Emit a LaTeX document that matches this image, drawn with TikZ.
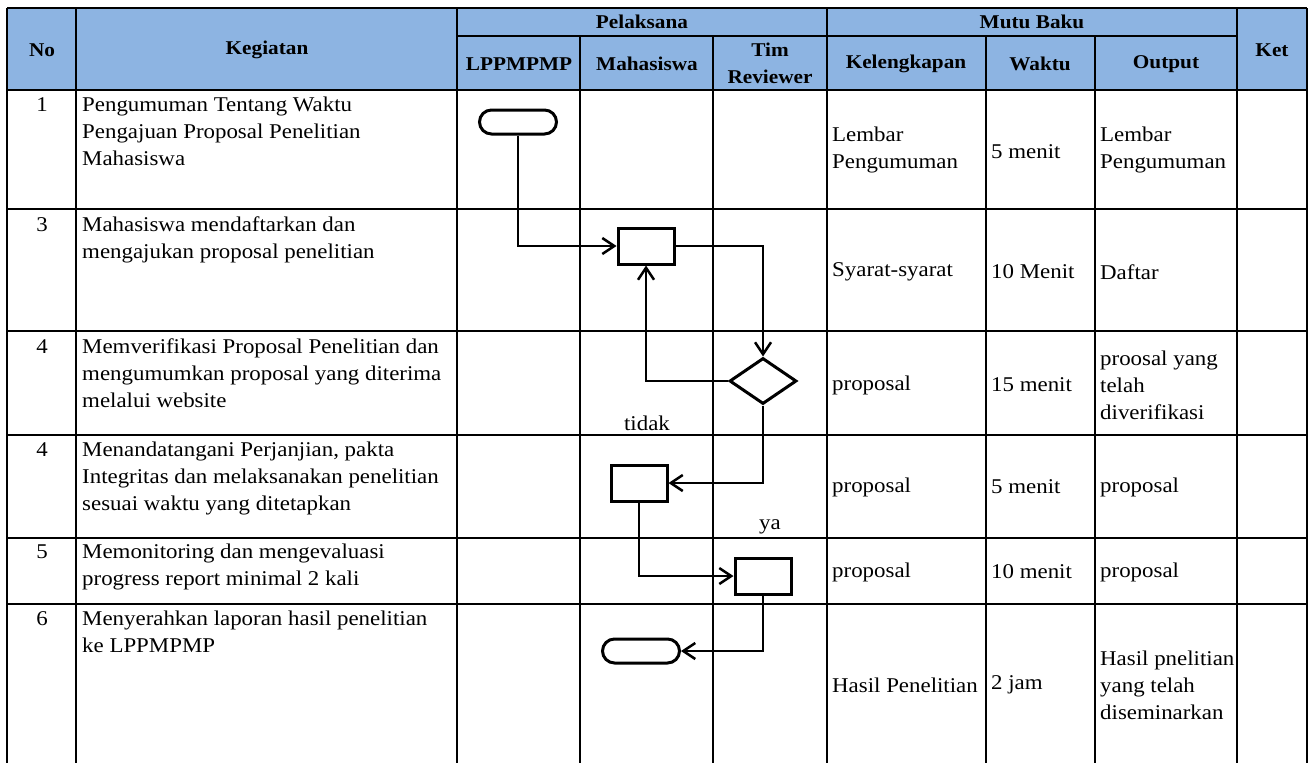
\documentclass[tikz,border=0pt]{standalone}
\usepackage{fontspec}
\setmainfont{Liberation Serif}[FakeStretch=1.09]
\usetikzlibrary{arrows.meta,positioning,shapes.geometric}
\definecolor{headblue}{RGB}{141,180,226}

\begin{document}
\begin{tikzpicture}[x=1pt,y=-1pt,font=\fontsize{21}{27}\selectfont,
  >={Straight Barb[length=12pt,width=16pt,line width=2.5pt]}]
  \tikzstyle{grid}=[line width=1.5pt]
  \tikzstyle{head}=[font=\fontsize{19.5}{27}\selectfont\bfseries,align=center,inner sep=0pt]
  \tikzstyle{num}=[anchor=base,inner sep=0pt]
  \tikzstyle{task}=[anchor=north west,align=left,inner sep=0pt]
  \tikzstyle{cell}=[anchor=west,align=left,inner sep=0pt]
  \tikzstyle{term}=[draw,line width=3pt,rounded corners=12pt,minimum width=77pt,minimum height=24pt]
  \tikzstyle{proc}=[draw,line width=3pt,minimum width=56pt,minimum height=36pt]
  \tikzstyle{choice}=[draw,diamond,line width=3pt,inner sep=0pt,minimum width=67pt,minimum height=46pt]
  \tikzstyle{flow}=[->,line width=1.3pt]

  \useasboundingbox (0,0) rectangle (1309,763);

  % header
  \fill[headblue] (7,8) rectangle (1307,90);
  \node[head] (hno)  at (42,50)   {No};
  \node[head] (hkeg) at (267,50)  {Kegiatan};
  \node[head] (hpel) at (642,22)  {Pelaksana};
  \node[head] (hlp)  at (519,64)  {LPPMPMP};
  \node[head] (hmhs) at (647,64)  {Mahasiswa};
  \node[head] (htim) at (770,63)  {Tim\\Reviewer};
  \node[head] (hmut) at (1032,22) {Mutu Baku};
  \node[head] (hkel) at (906,64)  {Kelengkapan};
  \node[head] (hwkt) at (1040,64) {Waktu};
  \node[head] (hout) at (1166,64) {Output};
  \node[head] (hket) at (1272,50) {Ket};

  % grid
  \draw[grid] (7,8) -- (1307,8) (457,36) -- (1237,36) (7,90) -- (1307,90)
    (7,209) -- (1307,209) (7,331) -- (1307,331) (7,435) -- (1307,435)
    (7,538) -- (1307,538) (7,604) -- (1307,604);
  \draw[grid] (7,8) -- (7,763) (76,8) -- (76,763) (457,8) -- (457,763)
    (827,8) -- (827,763) (1237,8) -- (1237,763) (1307,8) -- (1307,763);
  \draw[grid] (580,36) -- (580,763) (713,36) -- (713,763)
    (986,36) -- (986,763) (1095,36) -- (1095,763);

  % no and kegiatan
  \node[num]  (n1) at (42,111) {1};
  \node[task] (k1) at (82,97)  {Pengumuman Tentang Waktu\\Pengajuan Proposal Penelitian\\Mahasiswa};
  \node[num]  (n2) at (42,231) {3};
  \node[task] (k2) at (82,217) {Mahasiswa mendaftarkan dan\\mengajukan proposal penelitian};
  \node[num]  (n3) at (42,353) {4};
  \node[task] (k3) at (82,339) {Memverifikasi Proposal Penelitian dan\\mengumumkan proposal yang diterima\\melalui website};
  \node[num]  (n4) at (42,456) {4};
  \node[task] (k4) at (82,442) {Menandatangani Perjanjian, pakta\\Integritas dan melaksanakan penelitian\\sesuai waktu yang ditetapkan};
  \node[num]  (n5) at (42,558) {5};
  \node[task] (k5) at (82,544) {Memonitoring dan mengevaluasi\\progress report minimal 2 kali};
  \node[num]  (n6) at (42,625) {6};
  \node[task] (k6) at (82,611) {Menyerahkan laporan hasil penelitian\\ke LPPMPMP};

  % mutu baku
  \node[cell] (kl1) at (832,150) {Lembar\\Pengumuman};
  \node[cell] (w1)  at (991,152) {5 menit};
  \node[cell] (o1)  at (1100,150) {Lembar\\Pengumuman};
  \node[cell] (kl2) at (832,272) {Syarat-syarat};
  \node[cell] (w2)  at (991,272) {10 Menit};
  \node[cell] (o2)  at (1100,272) {Daftar};
  \node[cell] (kl3) at (832,385) {proposal};
  \node[cell] (w3)  at (991,385) {15 menit};
  \node[cell] (o3)  at (1100,385) {proosal yang\\telah\\diverifikasi};
  \node[cell] (kl4) at (832,487) {proposal};
  \node[cell] (w4)  at (991,487) {5 menit};
  \node[cell] (o4)  at (1100,487) {proposal};
  \node[cell] (kl5) at (832,572) {proposal};
  \node[cell] (w5)  at (991,572) {10 menit};
  \node[cell] (o5)  at (1100,572) {proposal};
  \node[cell] (kl6) at (832,685) {Hasil Penelitian};
  \node[cell] (w6)  at (991,685) {2 jam};
  \node[cell] (o6)  at (1100,685) {Hasil pnelitian\\yang telah\\diseminarkan};

  % flow
  \node[term]   (start) at (518,122) {};
  \node[proc]   (daftar) at (646,246) {};
  \node[choice] (cek)    at (763,381) {};
  \node[proc]   (teken)  at (639,483) {};
  \node[proc]   (monev)  at (763,576) {};
  \node[term]   (stop)   at (641,651) {};
  \node (ltidak) at (647,423) {tidak};
  \node (lya)    at (770,527) {ya};

  \path[flow]
  (start.south) edge[to path={|- (\tikztotarget)}] (daftar.west)
  (daftar.east) edge[to path={-| (\tikztotarget)}] (cek.north)
  (cek.west) edge[to path={-| (\tikztotarget)}] (daftar.south)
  (cek.south) edge[to path={|- (\tikztotarget)}] (teken.east)
  (teken.south) edge[to path={|- (\tikztotarget)}] (monev.west)
  (monev.south) edge[to path={|- (\tikztotarget)}] (stop.east);
\end{tikzpicture}
\end{document}
